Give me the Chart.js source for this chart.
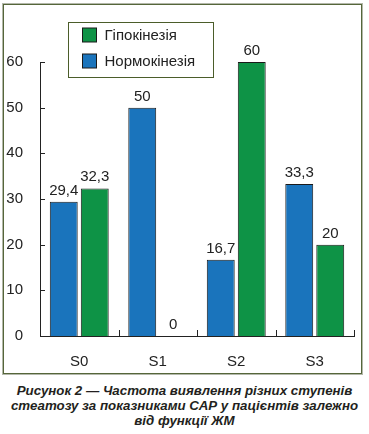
<!DOCTYPE html>
<html>
<head>
<meta charset="utf-8">
<script src="https://cdn.jsdelivr.net/npm/chart.js@4/dist/chart.umd.min.js"></script>
<style>
  html, body { margin: 0; padding: 0; background: #fff; }
  body { width: 369px; height: 434px; position: relative; overflow: hidden; }
  #frame { position: absolute; left: 3px; top: 4px; width: 357px; height: 368px;
           border: 1px solid #56663a; box-shadow: 0 0 0 1px #b3b8aa; }
  #wrap { position: absolute; left: 0; top: 0; width: 369px; height: 380px; }
  #caption { position: absolute; left: 0; top: 383px; width: 369px; text-align: center;
             font-family: "Liberation Sans", Arial, sans-serif; font-weight: bold; font-style: italic;
             font-size: 13.3px; line-height: 15px; color: #231f20; letter-spacing: 0; }
</style>
</head>
<body>
<div id="frame"></div>
<div id="wrap"><canvas id="c" width="369" height="380"></canvas></div>
<div id="caption">Рисунок 2 — Частота виявлення різних ступенів<br>стеатозу за показниками САР у пацієнтів залежно<br>від функції ЖМ</div>
<script>
const categories = ["S0", "S1", "S2", "S3"];
const normoValues = [29.4, 50, 16.7, 33.3];
const hypoValues = [32.3, 0, 60, 20];
const seriesNames = ["Нормокінезія", "Гіпокінезія"];
const yTicks = [0, 10, 20, 30, 40, 50, 60];

const BLUE = "#1a74bc";
const GREEN = "#0e9346";
const FONT = "'Liberation Sans', Arial, sans-serif";
const TEXT = "#222";

const inwardTicks = {
  id: "inwardTicks",
  afterDraw(chart) {
    const ctx = chart.ctx, x = chart.scales.x, y = chart.scales.y;
    ctx.save();
    ctx.strokeStyle = "#222";
    ctx.lineWidth = 1;
    ctx.beginPath();
    yTicks.forEach(v => {
      const py = Math.round(y.getPixelForValue(v)) + 0.5;
      ctx.moveTo(x.left, py); ctx.lineTo(x.left + 5, py);
    });
    for (let i = 0; i <= categories.length; i++) {
      const px = Math.round(x.getPixelForValue(i - 0.5)) + 0.5;
      ctx.moveTo(px, y.bottom); ctx.lineTo(px, y.bottom - 6);
    }
    ctx.stroke();
    ctx.restore();
  }
};

const valueLabels = {
  id: "valueLabels",
  afterDatasetsDraw(chart) {
    const ctx = chart.ctx;
    ctx.save();
    ctx.font = "15px " + FONT;
    ctx.fillStyle = TEXT;
    ctx.textAlign = "center";
    ctx.textBaseline = "alphabetic";
    chart.data.datasets.forEach((ds, di) => {
      chart.getDatasetMeta(di).data.forEach((bar, i) => {
        const txt = String(ds.data[i]).replace(".", ",");
        ctx.fillText(txt, bar.x, bar.y - 7);
      });
    });
    ctx.restore();
  }
};

const boxLegend = {
  id: "boxLegend",
  afterDraw(chart) {
    const ctx = chart.ctx, a = chart.chartArea;
    const bx = a.left + 28.5, by = 22.5, bw = 145, bh = 55;
    ctx.save();
    ctx.fillStyle = "#fff";
    ctx.fillRect(bx, by, bw, bh);
    ctx.strokeStyle = "#4b5d2a";
    ctx.lineWidth = 1;
    ctx.strokeRect(bx, by, bw, bh);
    const order = [1, 0];
    ctx.font = "15px " + FONT;
    ctx.textBaseline = "middle";
    ctx.textAlign = "left";
    order.forEach((di, k) => {
      const ds = chart.data.datasets[di];
      const cy = by + 12.5 + k * 26;
      ctx.fillStyle = ds.backgroundColor;
      ctx.fillRect(bx + 14, cy - 7, 14, 14);
      ctx.strokeStyle = "#1a1a1a";
      ctx.strokeRect(bx + 14, cy - 7, 14, 14);
      ctx.fillStyle = TEXT;
      ctx.fillText(ds.label, bx + 36, cy + 1);
    });
    ctx.restore();
  }
};

new Chart(document.getElementById("c"), {
  type: "bar",
  data: {
    labels: categories,
    datasets: [
      { label: seriesNames[0], data: normoValues, backgroundColor: BLUE, borderColor: "#1a1a1a", borderWidth: 1,
        categoryPercentage: 0.79, barPercentage: 0.9 },
      { label: seriesNames[1], data: hypoValues, backgroundColor: GREEN, borderColor: "#1a1a1a", borderWidth: 1,
        categoryPercentage: 0.79, barPercentage: 0.9 }
    ]
  },
  options: {
    responsive: false,
    animation: false,
    layout: { padding: { left: 0, right: 15, top: 62, bottom: 0 } },
    plugins: { legend: { display: false }, tooltip: { enabled: false } },
    scales: {
      x: {
        grid: { display: false },
        border: { display: true, color: "#222", width: 1 },
        ticks: { color: TEXT, font: { family: FONT, size: 15 }, padding: 9 },
        afterFit(s) { s.height = 44; }
      },
      y: {
        min: 0, max: 60,
        grid: { display: false },
        border: { display: true, color: "#222", width: 1 },
        ticks: { stepSize: 10, color: TEXT, font: { family: FONT, size: 15 }, padding: 9 },
        afterFit(s) { s.width = 40; }
      }
    }
  },
  plugins: [inwardTicks, valueLabels, boxLegend]
});
</script>
</body>
</html>
